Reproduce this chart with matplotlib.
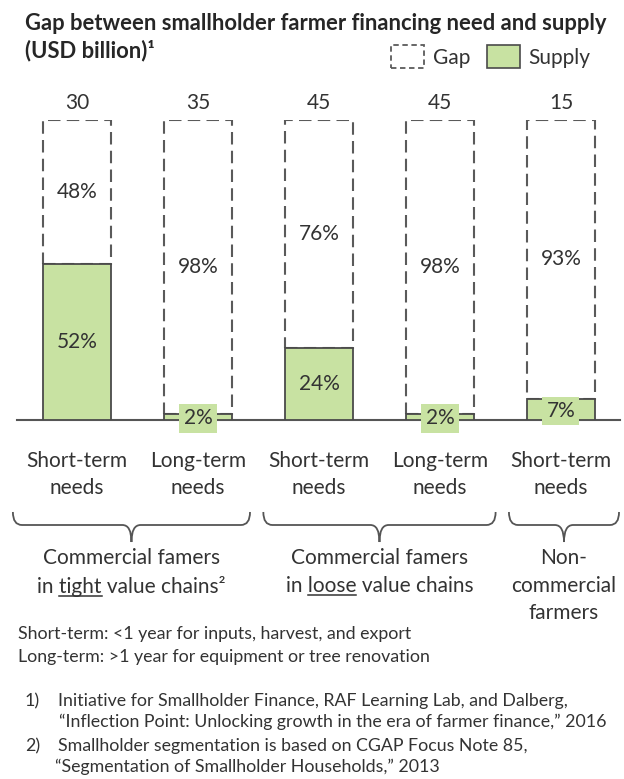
import matplotlib
matplotlib.use("Agg")
import matplotlib.pyplot as plt
from matplotlib.patches import Patch, PathPatch
from matplotlib.path import Path

plt.rcParams['font.family'] = ['Lato', 'DejaVu Sans']

categories = ["Short-term\nneeds", "Long-term\nneeds", "Short-term\nneeds",
              "Long-term\nneeds", "Short-term\nneeds"]
totals = [30, 35, 45, 45, 15]
supply_pct = [52, 2, 24, 2, 7]
gap_pct = [48, 98, 76, 98, 93]

group_lines = [["Commercial famers", "in tight value chains\u00b2"],
               ["Commercial famers", "in loose value chains"],
               ["Non-", "commercial", "farmers"]]
group_underline = ["tight", "loose", None]
group_spans = [(-0.53, 1.43), (1.54, 3.46), (3.57, 4.48)]

notes = ["Short-term: <1 year for inputs, harvest, and export",
         "Long-term: >1 year for equipment or tree renovation"]
refs = [("1)", "Initiative for Smallholder Finance, RAF Learning Lab, and Dalberg,",
         "\u201cInflection Point: Unlocking growth in the era of farmer finance,\u201d 2016"),
        ("2)", "Smallholder segmentation is based on CGAP Focus Note 85,",
         "\u201cSegmentation of Smallholder Households,\u201d 2013")]

GREEN = "#c8e2a2"
EDGE = "#4a4a4a"
DASH = "#5a5a5a"
TXT = "#333333"

W, H = 624, 779
fig = plt.figure(figsize=(W / 100, H / 100), dpi=100)

# axes: baseline at y=420px, 100% at y=120px, x from 17px to 620px
ax = fig.add_axes([17 / W, 1 - 420 / H, (620 - 17) / W, 300 / H])
ax.set_xlim(-0.496, 4.488)
ax.set_ylim(0, 100)
for s in ["top", "right", "left"]:
    ax.spines[s].set_visible(False)
ax.spines["bottom"].set_color("#555555")
ax.spines["bottom"].set_linewidth(1.5)
ax.set_xticks([])
ax.set_yticks([])

x = list(range(len(categories)))
bw = 0.562
ax.bar(x, gap_pct, bw, bottom=supply_pct, facecolor="none", edgecolor=DASH,
       linestyle=(0, (6, 3)), linewidth=1.5, zorder=2)
ax.bar(x, supply_pct, bw, facecolor=GREEN, edgecolor=EDGE, linewidth=1.3, zorder=3)

fs = 15
for i in x:
    ax.text(i, 105.7, str(totals[i]), ha="center", va="center", fontsize=fs, color=TXT)
    ax.text(i, supply_pct[i] + gap_pct[i] / 2, f"{gap_pct[i]}%", ha="center",
            va="center", fontsize=fs, color=TXT, zorder=4)
    if supply_pct[i] < 10:
        ax.text(i, supply_pct[i] / 2 - 0.5, f"{supply_pct[i]}%", ha="center",
                va="center", fontsize=fs, color=TXT, zorder=5,
                bbox=dict(facecolor=GREEN, edgecolor="none", pad=3.0))
    else:
        ax.text(i, supply_pct[i] / 2, f"{supply_pct[i]}%", ha="center",
                va="center", fontsize=fs, color=TXT, zorder=4)
    for k, part in enumerate(categories[i].split("\n")):
        ax.text(i, -([461, 488][k] - 420) / 3, part, ha="center", va="center",
                fontsize=fs, color=TXT, clip_on=False)

# braces
y_top, y_mid, y_tip = -(512 - 420) / 3, -(525 - 420) / 3, -(542 - 420) / 3
rx = 0.075
for (x0, x1) in group_spans:
    xc = (x0 + x1) / 2
    verts = [(x0, y_top), (x0, y_mid), (x0 + rx, y_mid),
             (xc - rx, y_mid),
             (xc, y_mid), (xc, y_tip),
             (xc, y_mid), (xc + rx, y_mid),
             (x1 - rx, y_mid),
             (x1, y_mid), (x1, y_top)]
    codes = [Path.MOVETO, Path.CURVE3, Path.CURVE3, Path.LINETO,
             Path.CURVE3, Path.CURVE3, Path.CURVE3, Path.CURVE3,
             Path.LINETO, Path.CURVE3, Path.CURVE3]
    ax.add_patch(PathPatch(Path(verts, codes), facecolor="none", edgecolor="#555555",
                           linewidth=1.3, clip_on=False))

# group labels
fig.canvas.draw()
renderer = fig.canvas.get_renderer()
line_y = [558, 586, 613]
for g, (x0, x1) in enumerate(group_spans):
    xc = (x0 + x1) / 2
    for k, line in enumerate(group_lines[g]):
        t = ax.text(xc, -(line_y[k] - 420) / 3, line, ha="center", va="center",
                    fontsize=fs, color=TXT, clip_on=False)
        word = group_underline[g]
        if word and word in line:
            bb = t.get_window_extent(renderer)
            pre = line[:line.index(word) + len(word)]
            tmp1 = fig.text(0, 0, pre, fontsize=fs)
            tmp2 = fig.text(0, 0, word, fontsize=fs)
            w1 = tmp1.get_window_extent(renderer).width
            w2 = tmp2.get_window_extent(renderer).width
            tmp1.remove()
            tmp2.remove()
            xe = bb.x0 + w1
            xs = xe - w2
            yu = bb.y0 + 1
            fig.add_artist(plt.Line2D([xs / W, xe / W], [yu / H, yu / H],
                                      color=TXT, linewidth=1.1))

# title
fig.text(25 / W, 1 - 23 / H, "Gap between smallholder farmer financing need and supply",
         fontsize=15.8, fontweight="bold", color="#262626", va="center")
fig.text(25 / W, 1 - 51 / H, "(USD billion)\u00b9", fontsize=15.8, fontweight="bold",
         color="#262626", va="center")

# legend
handles = [Patch(facecolor="none", edgecolor=DASH, linestyle=(0, (3, 2)), linewidth=1.3),
           Patch(facecolor=GREEN, edgecolor=EDGE, linewidth=1.2)]
fig.legend(handles, ["Gap", "Supply"], loc="upper left", bbox_to_anchor=(391 / W, 1 - 45 / H),
           ncol=2, frameon=False, fontsize=fs, handlelength=1.6, handleheight=1.35,
           handletextpad=0.4, columnspacing=0.8, borderpad=0, borderaxespad=0,
           labelcolor=TXT)

# notes
nfs = 12.8
for k, n in enumerate(notes):
    fig.text(18 / W, 1 - (634 + 23 * k) / H, n, fontsize=nfs, color=TXT, va="center")
ref_y = [701, 746]
ref_x2 = [59, 55]
for k, (num, l1, l2) in enumerate(refs):
    fig.text(25 / W, 1 - ref_y[k] / H, num, fontsize=nfs, color=TXT, va="center")
    fig.text(58 / W, 1 - ref_y[k] / H, l1, fontsize=nfs, color=TXT, va="center")
    fig.text(ref_x2[k] / W, 1 - (ref_y[k] + 21) / H, l2, fontsize=nfs,
             color=TXT, va="center")

fig.savefig("out.png", dpi=100, facecolor="white")
